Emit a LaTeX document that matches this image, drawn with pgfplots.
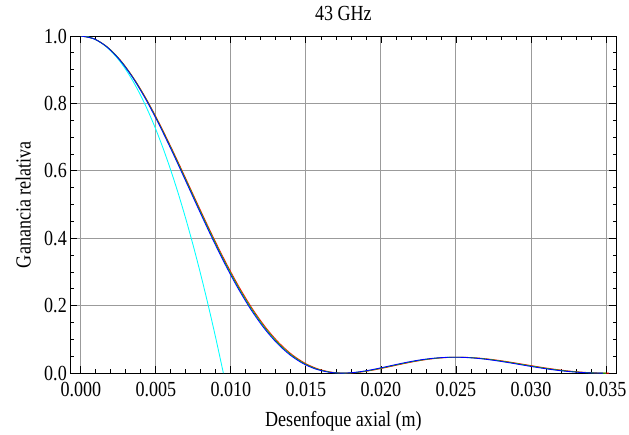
\documentclass[border=0pt]{standalone}
\usepackage{fontspec}
\setmainfont[FakeStretch=0.84]{Liberation Serif}
\usepackage{pgfplots}
\usepackage{pgfplotstable}
\pgfplotsset{compat=1.18}
\definecolor{gridgray}{RGB}{155,155,155}
\definecolor{mygreen}{RGB}{0,220,0}
\definecolor{mycyan}{RGB}{0,255,255}
\definecolor{myred}{RGB}{255,0,0}
\definecolor{myblue}{RGB}{0,0,255}

\pgfplotstableread{
xb xg xr y
0 0 0 1
0.00087 0.000875 0.00088 0.991791
0.00174 0.00175 0.00176 0.967531
0.00261 0.002625 0.00264 0.928134
0.00348 0.0035 0.00352 0.875140
0.00435 0.004375 0.0044 0.810569
0.00522 0.00525 0.00528 0.736840
0.00609 0.006125 0.00616 0.656638
0.00696 0.007 0.00704 0.572787
0.00783 0.007875 0.00792 0.488106
0.0087 0.00875 0.0088 0.405285
0.00957 0.009625 0.00968 0.326751
0.01044 0.0105 0.01056 0.254573
0.01131 0.011375 0.01144 0.190386
0.01218 0.01225 0.01232 0.135339
0.01305 0.013125 0.0132 0.090063
0.01392 0.014 0.01408 0.054696
0.01479 0.014875 0.01496 0.028904
0.01566 0.01575 0.01584 0.011945
0.01653 0.016625 0.01672 0.002747
0.0174 0.0175 0.0176 0.0
0.01827 0.018375 0.01848 0.002249
0.01914 0.01925 0.01936 0.007996
0.02001 0.020125 0.02024 0.015790
0.02088 0.021 0.02112 0.024310
0.02175 0.021875 0.022 0.032423
0.02262 0.02275 0.02288 0.039240
0.02349 0.023625 0.02376 0.044136
0.02436 0.0245 0.02464 0.046758
0.02523 0.025375 0.02552 0.047011
0.0261 0.02625 0.0264 0.045032
0.02697 0.027125 0.02728 0.041141
0.02784 0.028 0.02816 0.035799
0.02871 0.028875 0.02904 0.029547
0.02958 0.02975 0.02992 0.022947
0.03045 0.030625 0.0308 0.016542
0.03132 0.0315 0.03168 0.010804
0.03219 0.032375 0.03256 0.006102
0.03306 0.03325 0.03344 0.002680
0.03393 0.034125 0.03432 0.000652
0.0348 0.035 0.0352 0.0
}\maintable

\pgfplotstableread{
x y
0 1
0.0005 0.99723
0.001 0.98892
0.0015 0.97507
0.002 0.95568
0.0025 0.93075
0.003 0.90028
0.0035 0.86427
0.004 0.82272
0.0045 0.77563
0.005 0.72300
0.0055 0.66483
0.006 0.60112
0.0065 0.53187
0.007 0.45708
0.0075 0.37675
0.008 0.29088
0.0085 0.19947
0.009 0.10252
0.0095 0.0
}\cyantable

\begin{document}
\begin{tikzpicture}
\begin{axis}[
  scale only axis,
  width=546pt, height=337pt,
  xmin=-0.0007, xmax=0.0357,
  ymin=0, ymax=1,
  xtick={0,0.005,0.01,0.015,0.02,0.025,0.03,0.035},
  ytick={0,0.2,0.4,0.6,0.8,1},
  minor x tick num=4,
  minor y tick num=3,
  scaled x ticks=false,
  xticklabel style={/pgf/number format/fixed, /pgf/number format/fixed zerofill, /pgf/number format/precision=3, /pgf/number format/assume math mode=true, yshift=-6pt},
  yticklabel style={/pgf/number format/fixed, /pgf/number format/fixed zerofill, /pgf/number format/precision=1, /pgf/number format/assume math mode=true},
  tick align=inside,
  major tick length=7pt,
  minor tick length=4pt,
  tick style={black, line width=0.8pt},
  grid=major,
  major grid style={gridgray, line width=0.9pt},
  axis line style={black, line width=0.9pt},
  font=\fontsize{21.5}{24}\selectfont,
  title={43 GHz},
  title style={at={(axis description cs:0.5,1)}, anchor=base, yshift=10pt},
  xlabel={Desenfoque axial (m)},
  ylabel={Ganancia relativa},
  every axis x label/.style={at={(axis description cs:0.5,-0.1424)}, anchor=center},
  every axis y label/.style={at={(axis description cs:-0.086,0.5)}, rotate=90, anchor=center},
  every axis plot/.append style={line width=0.85pt, smooth, no markers},
]
\addplot[mycyan] table[x=x, y=y] {\cyantable};
\addplot[myred] table[x=xr, y=y] {\maintable};
\addplot[mygreen] table[x=xg, y=y] {\maintable};
\addplot[myblue] table[x=xb, y=y] {\maintable};
\end{axis}
\pgfresetboundingbox
\path[use as bounding box] ([xshift=-70.3pt,yshift=-61pt]current axis.south west) rectangle ([xshift=12.5pt,yshift=36pt]current axis.north east);
\end{tikzpicture}
\end{document}
